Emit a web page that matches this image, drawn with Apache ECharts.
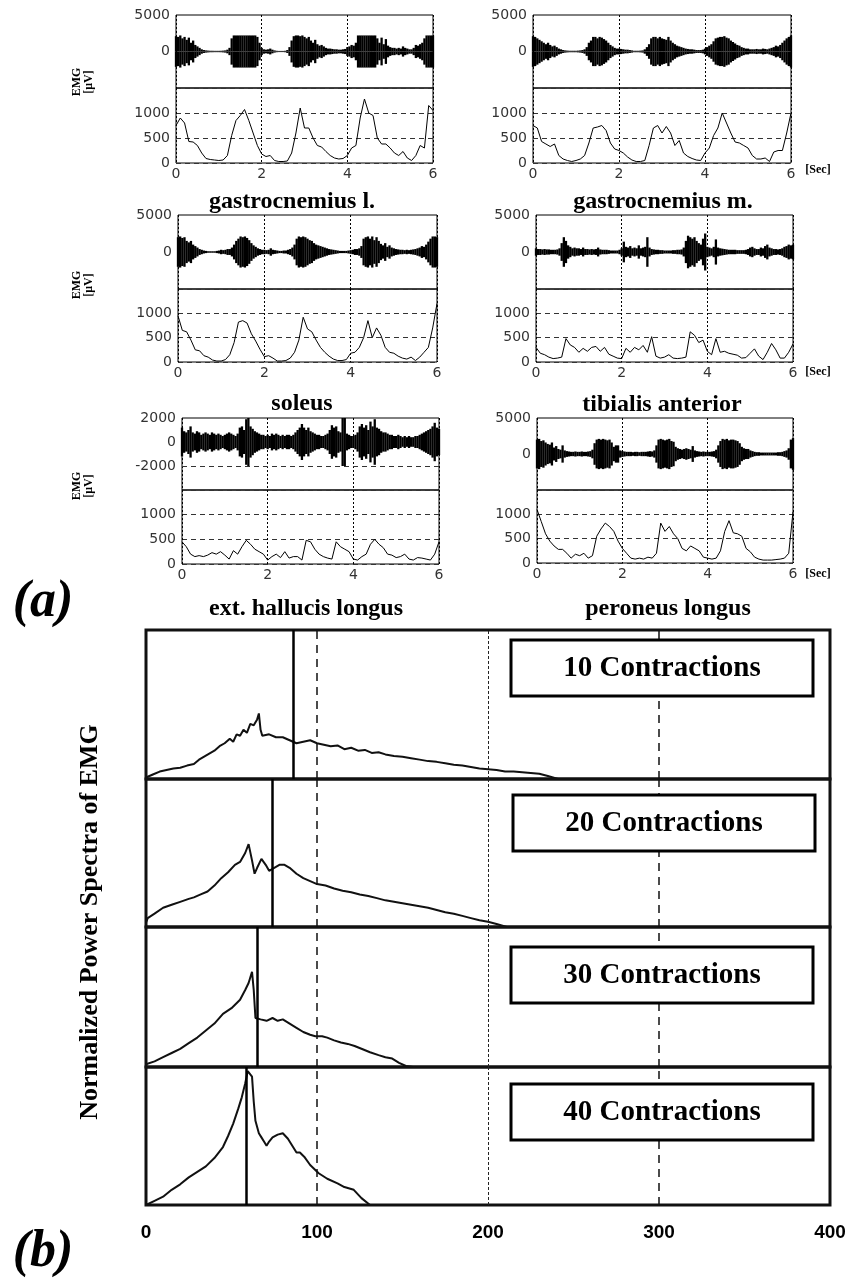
<!DOCTYPE html>
<html>
<head>
<meta charset="utf-8">
<title>EMG and power spectra</title>
<script src="https://cdn.jsdelivr.net/npm/echarts@6/dist/echarts.min.js"></script>
<style>
  html, body { margin: 0; padding: 0; background: #fff; }
  #main { width: 848px; height: 1285px; }
</style>
</head>
<body>
<div id="main"></div>
<script>
// ---- (a) raw EMG amplitude, one value every 0.05 s from 0 to 6 s [uV] ----
const rawGasL = [
  2100, 2000, 2200, 1800, 2000, 1600,
  1900, 1200, 1500, 900, 700, 500,
  300, 200, 150, 120, 100, 100, 90, 90,
  90, 100, 120, 150, 250, 500,
  1800, 2200, 2200, 2200, 2200, 2200,
  2200, 2200, 2200, 2200, 2200, 2200,
  2000, 1200, 500, 300, 250, 300,
  400, 250, 150, 100, 80, 80,
  80, 100, 200, 600, 1500, 2100,
  2200, 2200, 2100, 2200, 2000, 1800,
  2000, 1500, 1200, 1600, 1000, 800,
  900, 700, 500, 400, 400, 350,
  300, 300, 250, 250, 300, 350,
  600, 700, 900, 800, 1200, 2200,
  2200, 2200, 2200, 2200, 2200, 2200,
  2200, 2200, 1800, 1200, 1900, 1000,
  1700, 800, 600, 500, 500, 400,
  500, 400, 700, 500, 400, 300,
  300, 500, 900, 800, 1000, 1200,
  1800, 2200, 2200, 2200, 2200
]
const rawGasM = [
  2100, 2000, 1800, 1600, 1400, 1200,
  1000, 1200, 900, 700, 800, 600,
  400, 300, 200, 150, 120, 100, 100, 100,
  100, 120, 150, 200, 300, 600,
  1200, 1500, 2000, 2000, 1800, 2000,
  1900, 1700, 1500, 1200, 900, 700,
  500, 400, 400, 350, 300, 250,
  250, 200, 150, 100, 100, 100,
  120, 150, 300, 600, 1000, 1800,
  2000, 2000, 1800, 2000, 1800, 1700,
  1600, 2000, 1500, 1200, 1000, 800,
  700, 600, 500, 400, 350, 300,
  300, 250, 200, 200, 200, 250,
  400, 600, 800, 1000, 1400, 1800,
  1900, 2000, 2000, 2100, 1900, 1800,
  1500, 1300, 1100, 900, 800, 600,
  500, 400, 400, 300, 300, 300,
  350, 300, 300, 400, 350, 300,
  400, 500, 600, 800, 700, 900,
  1200, 1500, 1800, 2000, 2200
]
const rawSol = [
  2000, 2100, 1900, 2000, 1500, 1300,
  1500, 1000, 800, 600, 400, 300,
  200, 150, 100, 100, 100, 100, 150, 200,
  300, 250, 300, 400, 400, 600,
  1000, 1500, 1800, 2100, 2000, 2100,
  1900, 1600, 1200, 900, 700, 500,
  400, 300, 300, 250, 300, 500,
  300, 250, 200, 150, 150, 200,
  200, 300, 400, 600, 1000, 1800,
  2100, 2000, 2100, 2000, 1800, 1600,
  1500, 1200, 1000, 900, 800, 700,
  600, 500, 400, 350, 300, 250,
  200, 150, 150, 150, 150, 200,
  250, 300, 400, 400, 500, 800,
  1800, 2000, 2100, 1800, 2100, 1600,
  2000, 1500, 1100, 900, 1200, 700,
  900, 600, 500, 400, 350, 300,
  300, 250, 300, 250, 300, 350,
  400, 500, 600, 800, 700, 1000,
  1400, 1800, 2100, 2100, 2000
]
const rawTib = [
  500, 400, 400, 350, 400, 350,
  350, 300, 300, 300, 350, 500,
  1200, 2000, 1500, 900, 700, 500, 600, 500,
  500, 400, 600, 400, 400, 350,
  400, 350, 400, 600, 350, 300,
  300, 300, 250, 200, 200, 200,
  200, 300, 500, 1400, 700, 600,
  800, 500, 600, 500, 900, 500,
  600, 700, 2000, 600, 400, 350,
  300, 300, 250, 250, 200, 200,
  200, 200, 250, 250, 300, 300,
  350, 600, 1500, 2200, 2000, 1800,
  2000, 1500, 1200, 1000, 1800, 2500,
  700, 600, 500, 700, 1700, 600,
  500, 450, 400, 350, 300, 300,
  300, 300, 250, 250, 250, 250,
  300, 400, 600, 700, 500, 400,
  400, 600, 500, 800, 1000, 600,
  500, 400, 400, 350, 400, 500,
  700, 800, 1000, 900, 1000
]
const rawEhl = [
  1200, 900, 800, 1000, 1300, 800,
  700, 900, 800, 600, 700, 800,
  700, 600, 800, 700, 600, 700, 600, 500,
  600, 700, 800, 700, 600, 500,
  700, 1200, 1300, 1000, 1900, 2000,
  1300, 1100, 900, 800, 700, 600,
  600, 500, 600, 500, 700, 600,
  700, 600, 500, 600, 500, 600,
  600, 500, 600, 800, 1000, 1200,
  1500, 1200, 1000, 1200, 900, 800,
  700, 600, 600, 500, 500, 600,
  700, 1000, 1400, 1200, 1300, 900,
  800, 2000, 2000, 700, 600, 500,
  500, 600, 800, 1300, 1500, 1200,
  1400, 1000, 1700, 1300, 1900, 1200,
  1100, 900, 800, 800, 700, 600,
  600, 500, 500, 600, 500, 400,
  500, 400, 500, 400, 400, 500,
  500, 600, 700, 800, 900, 1000,
  1100, 1300, 1600, 1200, 1100
]
const rawPer = [
  2000, 2100, 1800, 1900, 1600, 1400,
  1300, 1600, 900, 1100, 700, 600,
  1200, 500, 400, 350, 300, 300, 350, 300,
  300, 350, 300, 300, 350, 400,
  600, 1500, 2000, 2100, 2000, 2100,
  2000, 1900, 2000, 1600, 1000, 1200,
  1200, 500, 400, 350, 300, 300,
  300, 250, 300, 300, 250, 300,
  300, 300, 350, 400, 350, 500,
  1200, 2000, 2100, 2000, 1900, 2000,
  2100, 1800, 1700, 1000, 800, 700,
  600, 700, 800, 700, 600, 1100,
  500, 400, 350, 300, 350, 300,
  300, 300, 350, 400, 600, 1200,
  1800, 2100, 2000, 2100, 1900, 2000,
  2000, 1900, 1800, 1500, 1000, 800,
  700, 700, 500, 400, 300, 250,
  250, 200, 200, 200, 200, 200,
  200, 200, 200, 250, 250, 300,
  400, 500, 800, 2000, 2200
]

// ---- (a) smoothed EMG, one value every 0.1 s from 0 to 6 s [uV] ----
const envGasL = [
  750, 900, 800, 430, 420, 350, 200, 90, 70, 60,
  50, 60, 150, 550, 850, 950, 1070, 850, 600, 350,
  180, 130, 150, 50, 30, 30, 40, 200, 600, 1100,
  700, 700, 500, 350, 320, 230, 150, 100, 80, 90,
  150, 300, 350, 900, 1280, 1000, 950, 500, 380, 380,
  300, 200, 150, 230, 100, 50, 150, 350, 300, 1150,
  1050
]
const envGasM = [
  750, 700, 430, 380, 330, 380, 150, 80, 50, 30,
  50, 80, 150, 400, 700, 720, 750, 650, 400, 280,
  250, 200, 120, 60, 30, 30, 50, 350, 700, 750,
  600, 730, 600, 350, 450, 200, 130, 90, 60, 50,
  200, 300, 550, 700, 1000, 800, 600, 420, 400, 350,
  300, 150, 80, 80, 100, 30, 220, 250, 250, 600,
  1000
]
const envSol = [
  950, 650, 620, 450, 250, 230, 130, 100, 40, 20,
  20, 50, 150, 400, 820, 850, 800, 580, 430, 260,
  110, 130, 80, 20, 20, 30, 80, 200, 450, 920,
  680, 620, 450, 300, 200, 120, 60, 30, 30, 50,
  180, 200, 300, 500, 850, 500, 700, 550, 300, 200,
  180, 120, 80, 60, 100, 30, 100, 200, 300, 700,
  1200
]
const envTib = [
  300, 180, 150, 100, 70, 80, 100, 480, 350, 300,
  200, 280, 220, 300, 320, 220, 300, 160, 120, 80,
  70, 280, 200, 300, 250, 340, 200, 520, 120, 80,
  100, 150, 80, 70, 80, 100, 620, 550, 400, 450,
  220, 150, 480, 200, 220, 180, 160, 140, 80, 90,
  180, 270, 120, 50, 200, 380, 250, 80, 80, 200,
  370
]
const envEhl = [
  450, 350, 200, 150, 170, 150, 180, 230, 200, 250,
  180, 100, 270, 200, 350, 480, 400, 300, 250, 200,
  80, 150, 200, 130, 250, 120, 150, 150, 80, 480,
  450, 300, 200, 150, 120, 100, 450, 350, 300, 250,
  100, 80, 150, 200, 400, 500, 400, 330, 200, 180,
  130, 150, 200, 100, 80, 130, 120, 100, 80, 200,
  450
]
const envPer = [
  1100, 850, 600, 450, 350, 280, 280, 200, 100, 180,
  150, 200, 100, 150, 550, 700, 820, 750, 650, 450,
  300, 200, 100, 80, 100, 80, 120, 100, 200, 820,
  650, 750, 600, 500, 300, 250, 350, 300, 250, 120,
  100, 80, 100, 250, 650, 870, 620, 600, 550, 300,
  230, 120, 80, 60, 60, 60, 70, 80, 100, 200,
  1050
]

const timeTicks = [0, 2, 4, 6]
const rawTicks = [-5000, 0, 5000]
const rawLabels = [0, 5000]
const rawTicksEhl = [-4000, -2000, 0, 2000]
const rawLabelsEhl = [-2000, 0, 2000]
const envTicks = [0, 500, 1000, 1500]
const envLabels = [0, 500, 1000]
const muscles = ['gastrocnemius l.', 'gastrocnemius m.', 'soleus', 'tibialis anterior', 'ext. hallucis longus', 'peroneus longus']

// ---- (b) normalized power spectra ----
const spec10Freq = [0, 4, 8, 12, 16, 20, 24, 28, 31, 34, 37, 40, 43, 46, 49, 51, 53, 55, 57, 59, 61, 63, 65, 66, 67, 68, 72, 76, 80, 84, 88, 92, 96, 100, 104, 108, 112, 116, 120, 124, 128, 132, 136, 140, 145, 150, 155, 160, 165, 170, 175, 180, 185, 190, 195, 200, 205, 210, 215, 220, 225, 230, 235, 241]
const spec10Pow = [0.01, 0.03, 0.05, 0.06, 0.07, 0.075, 0.09, 0.1, 0.13, 0.15, 0.17, 0.19, 0.22, 0.24, 0.27, 0.25, 0.3, 0.29, 0.33, 0.31, 0.37, 0.36, 0.4, 0.44, 0.33, 0.29, 0.3, 0.28, 0.28, 0.26, 0.24, 0.25, 0.26, 0.24, 0.23, 0.22, 0.225, 0.2, 0.21, 0.19, 0.195, 0.175, 0.18, 0.165, 0.155, 0.15, 0.14, 0.13, 0.12, 0.115, 0.105, 0.095, 0.09, 0.08, 0.07, 0.065, 0.06, 0.05, 0.05, 0.045, 0.04, 0.035, 0.02, 0]
const spec20Freq = [0, 1, 5, 10, 15, 20, 25, 28, 32, 36, 40, 44, 48, 52, 55, 58, 60, 62, 63.5, 65, 67.5, 70, 72, 75, 78, 81, 84, 88, 92, 96, 100, 105, 110, 115, 120, 125, 130, 135, 140, 145, 150, 155, 160, 165, 170, 175, 180, 185, 190, 195, 200, 205, 211]
const spec20Pow = [0.03, 0.06, 0.09, 0.13, 0.15, 0.17, 0.19, 0.2, 0.22, 0.24, 0.28, 0.33, 0.37, 0.42, 0.44, 0.5, 0.56, 0.45, 0.36, 0.4, 0.46, 0.42, 0.38, 0.4, 0.42, 0.42, 0.4, 0.36, 0.33, 0.31, 0.29, 0.28, 0.26, 0.245, 0.235, 0.22, 0.21, 0.195, 0.18, 0.17, 0.16, 0.15, 0.14, 0.13, 0.115, 0.1, 0.09, 0.075, 0.06, 0.045, 0.035, 0.02, 0]
const spec30Freq = [0, 5, 10, 15, 20, 25, 30, 35, 40, 45, 50, 55, 58, 60, 62, 63, 64, 67, 70.5, 74, 77, 80, 84, 88, 92, 96, 99, 103, 106, 110, 114, 118, 122, 126, 131, 136, 140, 144, 148, 152, 156]
const spec30Pow = [0.02, 0.04, 0.07, 0.1, 0.13, 0.17, 0.21, 0.26, 0.31, 0.38, 0.42, 0.48, 0.55, 0.6, 0.68, 0.55, 0.35, 0.34, 0.33, 0.35, 0.33, 0.34, 0.31, 0.28, 0.25, 0.23, 0.22, 0.22, 0.21, 0.19, 0.175, 0.165, 0.15, 0.13, 0.105, 0.085, 0.07, 0.06, 0.03, 0.007, 0]
const spec40Freq = [0, 5, 10, 15, 20, 25, 30, 35, 40, 45, 48, 51, 54, 56, 58, 59.5, 62, 63, 64, 66, 67.5, 69, 70.5, 72, 74, 77, 80, 83, 86, 88, 90, 92.5, 96, 101, 106, 112, 116, 121.5, 126, 131]
const spec40Pow = [0, 0.03, 0.06, 0.11, 0.15, 0.2, 0.24, 0.28, 0.34, 0.42, 0.5, 0.59, 0.7, 0.78, 0.88, 0.97, 0.93, 0.75, 0.61, 0.52, 0.49, 0.46, 0.43, 0.46, 0.49, 0.51, 0.52, 0.48, 0.42, 0.38, 0.38, 0.35, 0.29, 0.23, 0.19, 0.157, 0.13, 0.11, 0.05, 0]
const medianFreq = [86, 74, 65, 58.5]
const contractions = ['10 Contractions', '20 Contractions', '30 Contractions', '40 Contractions']
const freqTicks = [0, 100, 200, 300, 400]

// ---- layout (pixels) ----
const panels = [
  { raw: rawGasL, env: envGasL, ticks: rawTicks, labels: rawLabels, left: 176, right: 433, top: 15, mid: 88, bottom: 163 },
  { raw: rawGasM, env: envGasM, ticks: rawTicks, labels: rawLabels, left: 533, right: 791, top: 15, mid: 88, bottom: 163 },
  { raw: rawSol, env: envSol, ticks: rawTicks, labels: rawLabels, left: 178, right: 437, top: 215, mid: 289, bottom: 362 },
  { raw: rawTib, env: envTib, ticks: rawTicks, labels: rawLabels, left: 536, right: 793, top: 215, mid: 289, bottom: 362 },
  { raw: rawEhl, env: envEhl, ticks: rawTicksEhl, labels: rawLabelsEhl, left: 182, right: 439, top: 418, mid: 490, bottom: 564 },
  { raw: rawPer, env: envPer, ticks: rawTicks, labels: rawLabels, left: 537, right: 793, top: 418, mid: 490, bottom: 563 }
]
const titlePos = [[292, 202], [663, 202], [302, 404], [662, 405], [306, 609], [668, 609]]
const specRows = [[630, 779], [779, 927], [927, 1067], [1067, 1205]]
const specLeft = 146, specRight = 830
const boxPos = [[511, 640], [513, 795], [511, 947], [511, 1084]]

const serif = '"Liberation Serif", "Times New Roman", serif'
const tickFont = { fontFamily: 'DejaVu Sans', fontSize: 14, color: '#333' }

const chart = echarts.init(document.getElementById('main'))
const grids = [], xAxes = [], yAxes = [], series = []

// (a) six EMG panels, each a raw grid over an envelope grid
panels.forEach((p, k) => {
  const gTop = grids.length, gBot = gTop + 1
  const w = p.right - p.left
  grids.push({ left: p.left, top: p.top, width: w, height: p.mid - p.top, show: true, borderColor: '#000', borderWidth: 1, outerBoundsMode: 'none' })
  grids.push({ left: p.left, top: p.mid, width: w, height: p.bottom - p.mid, show: true, borderColor: '#000', borderWidth: 1, outerBoundsMode: 'none' })
  ;[gTop, gBot].forEach(g => {
    xAxes.push({
      type: 'value', gridIndex: g,
      min: timeTicks[0], max: timeTicks[timeTicks.length - 1], interval: timeTicks[1] - timeTicks[0],
      axisLine: { show: false }, axisTick: { show: false },
      axisLabel: Object.assign({ show: g === gBot, margin: 4 }, tickFont),
      splitLine: { show: true, lineStyle: { color: '#000', type: [2, 2], width: 1 } }
    })
  })
  yAxes.push({
    type: 'value', gridIndex: gTop,
    min: p.ticks[0], max: p.ticks[p.ticks.length - 1], interval: p.ticks[1] - p.ticks[0],
    axisLine: { show: false }, axisTick: { show: false }, splitLine: { show: false },
    axisLabel: Object.assign({ margin: 6, formatter: v => p.labels.includes(v) ? String(v) : '' }, tickFont)
  })
  yAxes.push({
    type: 'value', gridIndex: gBot,
    min: envTicks[0], max: envTicks[envTicks.length - 1], interval: envTicks[1] - envTicks[0],
    axisLine: { show: false }, axisTick: { show: false },
    splitLine: { show: true, lineStyle: { color: '#333', type: [5, 4], width: 1 } },
    axisLabel: Object.assign({ margin: 6, formatter: v => envLabels.includes(v) ? String(v) : '' }, tickFont)
  })
  const up = {
    type: 'bar', xAxisIndex: gTop, yAxisIndex: gTop, barWidth: 2.3, barGap: '-100%',
    itemStyle: { color: '#000' },
    data: p.raw.map((a, i) => [i * 0.05, a])
  }
  if (p.ticks[0] === -4000) {
    up.markLine = {
      symbol: 'none', silent: true, label: { show: false },
      lineStyle: { color: '#333', type: [5, 4], width: 1 },
      data: [{ yAxis: -2000 }]
    }
  }
  series.push(up)
  series.push({
    type: 'bar', xAxisIndex: gTop, yAxisIndex: gTop, barWidth: 2.3, barGap: '-100%',
    itemStyle: { color: '#000' },
    data: p.raw.map((a, i) => [i * 0.05, -a])
  })
  series.push({
    type: 'line', xAxisIndex: gBot, yAxisIndex: gBot, showSymbol: false,
    lineStyle: { color: '#000', width: 1 },
    data: p.env.map((v, i) => [i * 0.1, v])
  })
})

// (b) four spectra panels
const specF = [spec10Freq, spec20Freq, spec30Freq, spec40Freq]
const specP = [spec10Pow, spec20Pow, spec30Pow, spec40Pow]
specRows.forEach((r, k) => {
  const g = grids.length
  const last = k === specRows.length - 1
  grids.push({ left: specLeft, top: r[0], width: specRight - specLeft, height: r[1] - r[0], show: true, borderColor: '#111', borderWidth: 3, outerBoundsMode: 'none' })
  xAxes.push({
    type: 'value', gridIndex: g,
    min: freqTicks[0], max: freqTicks[freqTicks.length - 1], interval: freqTicks[1] - freqTicks[0],
    axisLine: { show: false }, axisTick: { show: false }, splitLine: { show: false },
    axisLabel: { show: last, margin: 18, fontFamily: '"Liberation Sans", Arial, sans-serif', fontWeight: 'bold', fontSize: 19, color: '#000' }
  })
  yAxes.push({ type: 'value', gridIndex: g, min: 0, max: 1, show: false })
  series.push({
    type: 'line', xAxisIndex: g, yAxisIndex: g, showSymbol: false,
    lineStyle: { color: '#111', width: 2 },
    data: specF[k].map((f, i) => [f, specP[k][i]]),
    markLine: {
      symbol: 'none', silent: true, label: { show: false },
      data: [
        { xAxis: 100, lineStyle: { color: '#111', type: [8, 6], width: 1.5 } },
        { xAxis: 200, lineStyle: { color: '#222', type: [3, 2], width: 1 } },
        { xAxis: 300, lineStyle: { color: '#111', type: [8, 6], width: 1.5 } },
        { xAxis: medianFreq[k], lineStyle: { color: '#000', type: 'solid', width: 2.5 } }
      ]
    }
  })
})

// texts and legend boxes
const graphic = []
muscles.forEach((m, i) => {
  graphic.push({ type: 'text', x: titlePos[i][0], y: titlePos[i][1], z: 100,
    style: { text: m, font: 'bold 24px ' + serif, fill: '#000', textAlign: 'center', textVerticalAlign: 'middle' } })
})
;[[82, 170], [285, 372], [486, 574]].forEach(([yl, ys]) => {
  graphic.push({ type: 'text', x: 77, y: yl, rotation: Math.PI / 2, z: 100,
    style: { text: 'EMG', font: 'bold 12px ' + serif, fill: '#000', textAlign: 'center', textVerticalAlign: 'middle' } })
  graphic.push({ type: 'text', x: 89, y: yl, rotation: Math.PI / 2, z: 100,
    style: { text: '[μV]', font: 'bold 12px ' + serif, fill: '#000', textAlign: 'center', textVerticalAlign: 'middle' } })
  graphic.push({ type: 'text', x: 818, y: ys, z: 100,
    style: { text: '[Sec]', font: 'bold 12px ' + serif, fill: '#000', textAlign: 'center', textVerticalAlign: 'middle' } })
})
graphic.push({ type: 'text', x: 43, y: 603, z: 100,
  style: { text: '(a)', font: 'italic bold 52px ' + serif, fill: '#000', textAlign: 'center', textVerticalAlign: 'middle' } })
graphic.push({ type: 'text', x: 43, y: 1253, z: 100,
  style: { text: '(b)', font: 'italic bold 52px ' + serif, fill: '#000', textAlign: 'center', textVerticalAlign: 'middle' } })
graphic.push({ type: 'text', x: 90, y: 922, rotation: Math.PI / 2, z: 100,
  style: { text: 'Normalized Power Spectra of EMG', font: 'bold 26px ' + serif, fill: '#000', textAlign: 'center', textVerticalAlign: 'middle' } })
contractions.forEach((c, i) => {
  const [bx, by] = boxPos[i]
  graphic.push({ type: 'rect', z: 100, shape: { x: bx, y: by, width: 302, height: 56 },
    style: { fill: '#fff', stroke: '#000', lineWidth: 3 } })
  graphic.push({ type: 'text', x: bx + 151, y: by + 29, z: 101,
    style: { text: c, font: 'bold 29px ' + serif, fill: '#000', textAlign: 'center', textVerticalAlign: 'middle' } })
})

chart.setOption({
  animation: false,
  backgroundColor: '#fff',
  grid: grids,
  xAxis: xAxes,
  yAxis: yAxes,
  series: series,
  graphic: graphic
})
</script>
</body>
</html>
